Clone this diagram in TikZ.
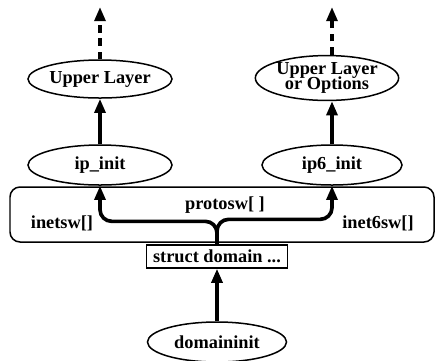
\documentclass[tikz,border=0pt]{standalone}
\usepackage{fontspec}
\setmainfont{Liberation Serif}
\usetikzlibrary{shapes.geometric,arrows.meta}
\begin{document}
\begin{tikzpicture}[x=0.6pt,y=-0.6pt,
  every node/.style={font=\fontsize{11}{11}\selectfont\bfseries},
  oval/.style={ellipse,draw,line width=0.9pt,inner sep=0pt,align=center},
  arr/.style={line width=2.2pt,-{Triangle[width=6.5pt,length=8.5pt]}},
  darr/.style={line width=2.4pt,dash pattern=on 4.5pt off 3.5pt,-{Triangle[width=6.5pt,length=8.5pt]}},
  lbl/.style={inner sep=0pt}]
\useasboundingbox (0,0) rectangle (435,360);
\draw[line width=0.9pt,rounded corners=6pt] (10,187) rectangle (434,242);
\node[oval,minimum width=86.4pt,minimum height=22.8pt] (ul) at (100,79) {Upper Layer};
\node[oval,minimum width=79.2pt,minimum height=25.2pt] (ulo) at (327,78) {Upper Layer\\[-1.5pt]or Options};
\node[oval,minimum width=86.4pt,minimum height=24pt] (ip) at (100,165) {ip\_init};
\node[oval,minimum width=84pt,minimum height=24pt] (ip6) at (332,165) {ip6\_init};
\node[draw,line width=0.8pt,minimum width=84.6pt,minimum height=13.8pt,inner sep=0.5pt] (sd) at (217,256.5) {struct domain ...};
\node[oval,minimum width=83.4pt,minimum height=24pt] (di) at (217,342) {domaininit};
\node[lbl] (l1) at (62,223) {inetsw[]};
\node[lbl] (l2) at (225,205) {protosw[ ]};
\node[lbl] (l3) at (378,223) {inet6sw[]};
\coordinate (t1) at (100,7);
\coordinate (t2) at (332,7);
\draw[darr] (ul.north) -- (t1);
\draw[darr] (ulo.north -| t2) -- (t2);
\draw[arr] (ip.north) -- (ul.south);
\draw[arr] (ip6.north) -- (ip6.north |- ulo.south);
\draw[arr,rounded corners=7pt] (sd.north) -- ++(0,-23) -| (ip.south);
\draw[arr,rounded corners=7pt] (sd.north) -- ++(0,-25) -| (ip6.south);
\draw[arr] (di.north) -- (sd.south);
\end{tikzpicture}
\end{document}
